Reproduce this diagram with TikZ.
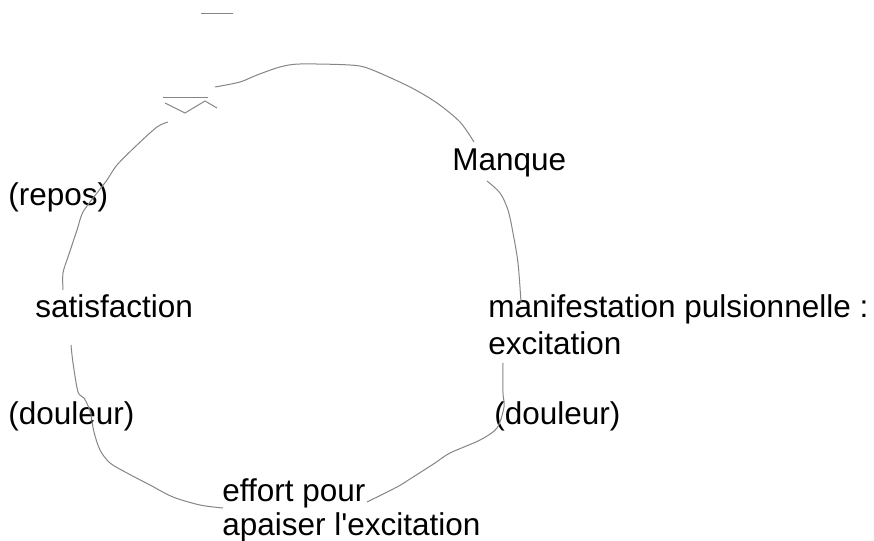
\documentclass[tikz,border=0pt]{standalone}
\usepackage{fontspec}
\setmainfont{Liberation Sans}
\definecolor{trait}{HTML}{858585}

\begin{document}
\begin{tikzpicture}[x=0.5pt,y=-0.5pt,
    lbl/.style={anchor=base west,inner sep=0pt,align=left,font=\fontsize{15.75}{18.5}\selectfont},
    lien/.style={draw=trait,line width=0.5pt}]
    \useasboundingbox (0,0) rectangle (874,541);
    \node[lbl] (manque) at (452,170) {Manque};
    \node[lbl] (repos) at (8,205) {(repos)};
    \node[lbl] (satis) at (35,317) {satisfaction};
    \node[lbl] (manif) at (488,354) {manifestation pulsionnelle :\\excitation};
    \node[lbl] (doulg) at (8,424) {(douleur)};
    \node[lbl] (dould) at (494,424) {(douleur)};
    \node[lbl,font=\fontsize{15.75}{17}\selectfont] (effort) at (222,535) {effort pour\\apaiser l\textquotesingle excitation};
    \coordinate (haut) at (215,87);
    \coordinate (manqueA) at (474,142);
    \coordinate (manqueB) at (487,181);
    \coordinate (manifA) at (521,302);
    \coordinate (manifB) at (503,363);
    \coordinate (effortA) at (367,502);
    \coordinate (effortB) at (223,508);
    \coordinate (satisA) at (71,345);
    \coordinate (satisB) at (63,290);
    \coordinate (fleche) at (168,122);
    \draw[lien] plot[smooth] coordinates {(haut) (240,82) (257,75) (280,67) (300,64) (350,65) (370,69) (410,87) (437,103) (460,122) (manqueA)};
    \draw[lien] plot[smooth] coordinates {(manqueB) (500,193) (508,210) (513,233) (518,263) (manifA)};
    \draw[lien] plot[smooth] coordinates {(manifB) (503,393) (504,407) (497,428) (480,440) (450,453) (435,463) (410,479) (397,487) (effortA)};
    \draw[lien] plot[smooth] coordinates {(effortB) (200,505) (173,497) (150,485) (127,473) (110,463) (100,450) (94,432) (90,411) (84,398) (78,392) (73,363) (satisA)};
    \draw[lien] plot[smooth] coordinates {(satisB) (63,273) (68,257) (77,230) (83,212) (97,193) (107,180) (117,165) (137,145) (157,127) (fleche)};
    \draw[lien] (163,97) -- (208,97);
    \draw[lien] (165,103) -- (185,113) -- (205,101) -- (217,108);
    \draw[lien] (201,13) -- (233,13);
\end{tikzpicture}
\end{document}
